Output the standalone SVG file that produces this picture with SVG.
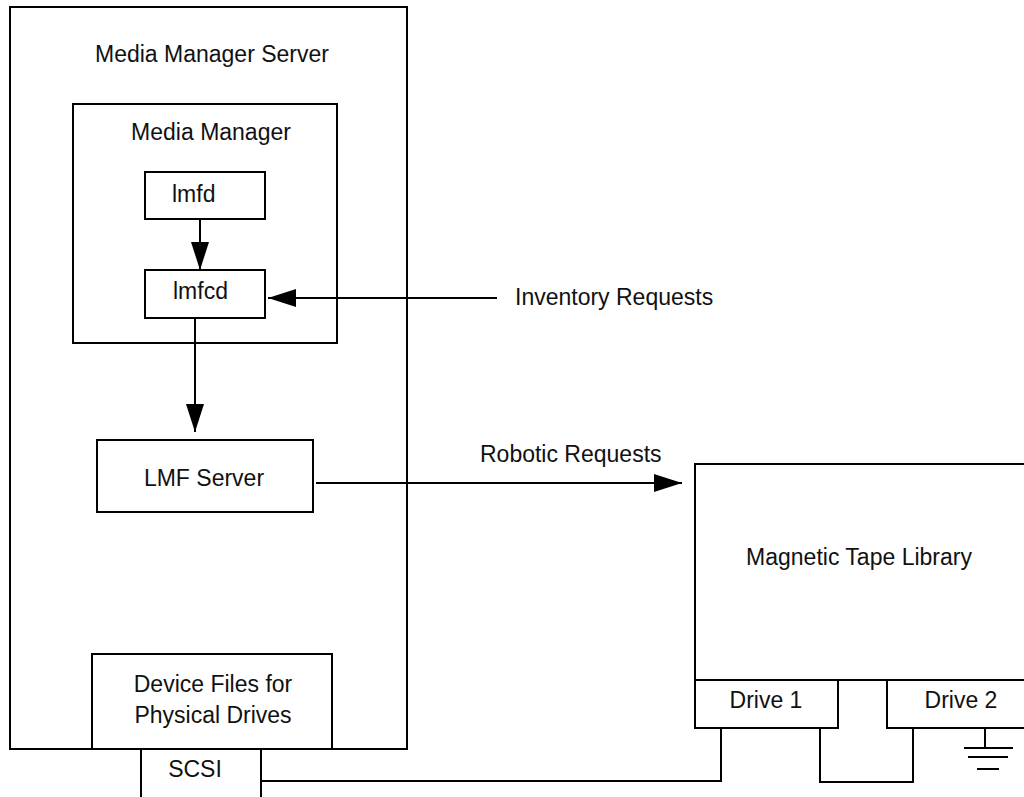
<svg xmlns="http://www.w3.org/2000/svg" width="1024" height="797" viewBox="0 0 1024 797">
<style>
.box{fill:none;stroke:#000;stroke-width:2}
.ln{fill:none;stroke:#000;stroke-width:2}
text{font-family:"Liberation Sans",Arial,sans-serif;font-size:23px;fill:#111}
.c{text-anchor:middle}
</style>
<defs>
<marker id="ah" markerUnits="userSpaceOnUse" markerWidth="30" markerHeight="20" refX="28" refY="9" orient="auto">
<path d="M0,0 L28,9 L0,18 z" fill="#000"/>
</marker>
</defs>
<rect width="1024" height="797" fill="#fff"/>
<g id="mms">
<rect class="box" x="10" y="7" width="397" height="742"/>
<text class="c" x="212" y="62">Media Manager Server</text>
</g>
<g id="mm">
<rect class="box" x="73" y="104" width="264" height="239"/>
<text class="c" x="211" y="140">Media Manager</text>
</g>
<g id="lmfd">
<rect class="box" x="145" y="172" width="120" height="47"/>
<text x="172" y="202">lmfd</text>
</g>
<g id="lmfcd">
<rect class="box" x="145" y="270" width="120" height="48"/>
<text x="173" y="299">lmfcd</text>
</g>
<g id="lmf">
<rect class="box" x="97" y="440" width="216" height="72"/>
<text class="c" x="204" y="486">LMF Server</text>
</g>
<g id="devfiles">
<rect class="box" x="92" y="654" width="240" height="95"/>
<text class="c" x="213" y="692">Device Files for</text>
<text class="c" x="213" y="723">Physical Drives</text>
</g>
<g id="scsi">
<path class="ln" d="M141,749 V797 M261,749 V797"/>
<text class="c" x="195" y="777">SCSI</text>
</g>
<g id="library">
<rect class="box" x="695" y="464" width="340" height="216"/>
<text class="c" x="859" y="565">Magnetic Tape Library</text>
</g>
<g id="drive1">
<rect class="box" x="695" y="680" width="143" height="48"/>
<text class="c" x="766" y="708">Drive 1</text>
</g>
<g id="drive2">
<rect class="box" x="887" y="680" width="150" height="48"/>
<text class="c" x="961" y="708">Drive 2</text>
</g>
<g id="ground">
<path class="ln" d="M985,728 V748 M964,748 H1013 M968,757 H1008 M977,769 H999"/>
</g>
<g id="connectors">
<line class="ln" x1="200" y1="219" x2="200" y2="270" marker-end="url(#ah)"/>
<line class="ln" x1="497" y1="298" x2="268" y2="298" marker-end="url(#ah)"/>
<line class="ln" x1="195" y1="318" x2="195" y2="432" marker-end="url(#ah)"/>
<line class="ln" x1="316" y1="483" x2="682" y2="483" marker-end="url(#ah)"/>
<path class="ln" d="M261,781 H721 V728"/>
<path class="ln" d="M820,728 V782 H913 V728"/>
<text x="515" y="305">Inventory Requests</text>
<text x="480" y="462">Robotic Requests</text>
</g>
</svg>
